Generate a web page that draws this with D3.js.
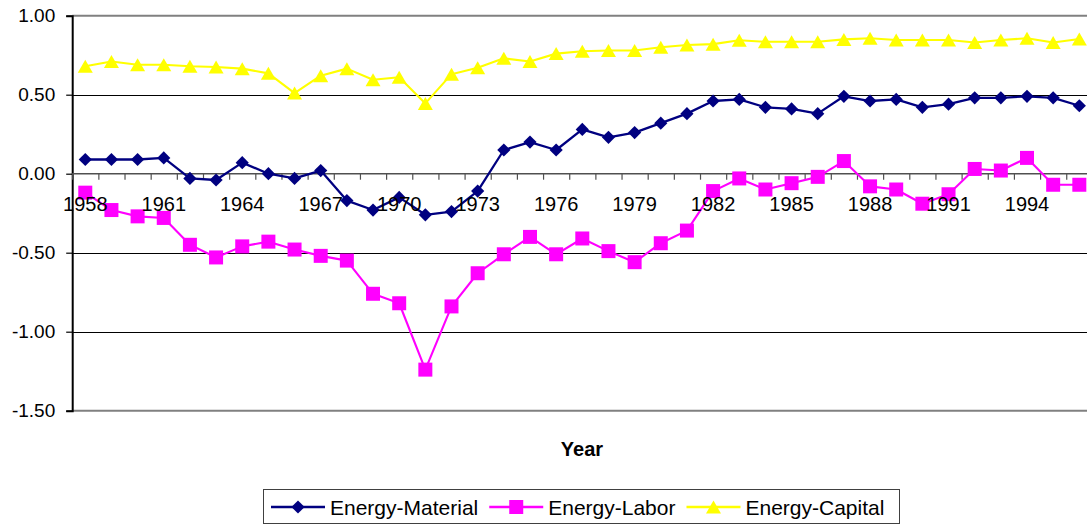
<!DOCTYPE html>
<html>
<head>
<meta charset="utf-8">
<script src="https://cdn.jsdelivr.net/npm/d3@7"></script>
<style>
  html, body { margin: 0; padding: 0; background: #fff; }
  svg { display: block; font-family: Arial, "Liberation Sans", sans-serif; }
</style>
</head>
<body>
<svg id="chart" width="1087" height="524"></svg>
<script>
const years = [1958,1959,1960,1961,1962,1963,1964,1965,1966,1967,1968,1969,1970,1971,1972,1973,1974,1975,1976,1977,
               1978,1979,1980,1981,1982,1983,1984,1985,1986,1987,1988,1989,1990,1991,1992,1993,1994,1995,1996];
const labelYears = [1958,1961,1964,1967,1970,1973,1976,1979,1982,1985,1988,1991,1994];
const yTicks = [-1.5,-1.0,-0.5,0.0,0.5,1.0];

const energyMaterial = [0.09,0.09,0.09,0.10,-0.03,-0.04,0.07,0.00,-0.03,0.02,-0.17,-0.23,-0.15,-0.26,-0.24,-0.11,0.15,0.20,0.15,0.28,
                        0.23,0.26,0.32,0.38,0.46,0.47,0.42,0.41,0.38,0.49,0.46,0.47,0.42,0.44,0.48,0.48,0.49,0.48,0.43];
const energyLabor    = [-0.12,-0.23,-0.27,-0.28,-0.45,-0.53,-0.46,-0.43,-0.48,-0.52,-0.55,-0.76,-0.82,-1.24,-0.84,-0.63,-0.51,-0.40,-0.51,-0.41,
                        -0.49,-0.56,-0.44,-0.36,-0.11,-0.03,-0.10,-0.06,-0.02,0.08,-0.08,-0.10,-0.19,-0.13,0.03,0.02,0.10,-0.07,-0.07];
const energyCapital  = [0.68,0.71,0.69,0.69,0.68,0.675,0.665,0.635,0.51,0.62,0.665,0.595,0.61,0.445,0.63,0.67,0.73,0.71,0.76,0.775,
                        0.78,0.78,0.80,0.815,0.82,0.845,0.835,0.835,0.835,0.85,0.857,0.846,0.846,0.846,0.83,0.846,0.857,0.83,0.853];

const seriesNames = ["Energy-Material","Energy-Labor","Energy-Capital"];
const seriesColors = ["#000080","#FF00FF","#FFFF00"];
const seriesShapes = ["diamond","square","triangle"];
const seriesValues = [energyMaterial, energyLabor, energyCapital];

const svg = d3.select("#chart");
const pLeft = 72.2, pRight = 1092.4, pTop = 15.7, pBottom = 410.7;

const x = d3.scaleBand().domain(years).range([pLeft, pRight]).paddingInner(0).paddingOuter(0);
const xi = d3.scaleLinear().domain([0, years.length]).range([pLeft, pRight]);
const y = d3.scaleLinear().domain([-1.5, 1.0]).range([pBottom, pTop]);
const cx = yr => x(yr) + x.bandwidth() / 2;

// gridlines
svg.append("g").selectAll("line").data(yTicks.filter(v => v !== 0 && v !== 1.0 && v !== -1.5)).join("line")
  .attr("x1", pLeft).attr("x2", pRight)
  .attr("y1", d => Math.round(y(d)) + 0.5).attr("y2", d => Math.round(y(d)) + 0.5)
  .attr("stroke", "#000").attr("stroke-width", 1);

// plot border top & bottom
[1.0, -1.5].forEach(v => {
  svg.append("line").attr("x1", pLeft).attr("x2", pRight)
    .attr("y1", y(v)).attr("y2", y(v))
    .attr("stroke", "#808080").attr("stroke-width", 2);
});

// y axis
const yAxis = svg.append("g").attr("transform", `translate(${pLeft},0)`)
  .call(d3.axisLeft(y).tickValues(yTicks).tickSize(6).tickPadding(11).tickFormat(d => d.toFixed(2)));
yAxis.select(".domain").attr("stroke", "#000").attr("stroke-width", 2);
yAxis.selectAll(".tick line").attr("stroke", "#000").attr("stroke-width", 1.2);
yAxis.selectAll("text").attr("font-size", 19).attr("fill", "#000")
  .attr("font-family", "Arial, 'Liberation Sans', sans-serif");

// x axis ticks at category boundaries
const xTickAxis = svg.append("g").attr("transform", `translate(0,${y(0)})`)
  .call(d3.axisBottom(xi).tickValues(d3.range(0, years.length + 1)).tickSize(6).tickFormat(""));
xTickAxis.select(".domain").attr("stroke", "#505050").attr("stroke-width", 1.5).attr("d", `M${pLeft},0H${pRight}`);
xTickAxis.selectAll(".tick line").attr("stroke", "#505050").attr("stroke-width", 1.2);

// series lines and markers
const line = d3.line().x((d, i) => cx(years[i])).y(d => y(d));

function markerPath(shape) {
  if (shape === "diamond") { const r = 6.6; return `M0,${-r}L${r},0L0,${r}L${-r},0Z`; }
  if (shape === "square") { const r = 7; return `M${-r},${-r}H${r}V${r}H${-r}Z`; }
  const w = 7.5, h = 13; return `M0,${-h/2}L${w},${h/2}L${-w},${h/2}Z`;
}

seriesValues.forEach((vals, s) => {
  const g = svg.append("g");
  g.append("path").datum(vals).attr("d", line)
    .attr("fill", "none").attr("stroke", seriesColors[s]).attr("stroke-width", s === 0 ? 2.3 : 2.1)
    .attr("stroke-linejoin", "round");
  g.selectAll("path.m").data(vals).join("path").attr("class", "m")
    .attr("transform", (d, i) => `translate(${cx(years[i])},${y(d)})`)
    .attr("d", markerPath(seriesShapes[s]))
    .attr("fill", seriesColors[s]);
});

// x labels
const xLab = svg.append("g").attr("transform", `translate(0,${y(0)})`)
  .call(d3.axisBottom(x).tickValues(labelYears).tickSize(0).tickPadding(23));
xLab.select(".domain").remove();
xLab.selectAll("text").attr("font-size", 20).attr("fill", "#000")
  .attr("font-family", "Arial, 'Liberation Sans', sans-serif");

// axis title
svg.append("text").attr("x", 582).attr("y", 455.5).attr("text-anchor", "middle")
  .attr("font-size", 20).attr("font-weight", "bold").attr("fill", "#000").text("Year");

// legend
const lg = svg.append("g");
lg.append("rect").attr("x", 263.5).attr("y", 489.5).attr("width", 636).attr("height", 34)
  .attr("fill", "#fff").attr("stroke", "#404040").attr("stroke-width", 1);
let lx = 271;
const ly = 507;
seriesNames.forEach((name, s) => {
  lg.append("line").attr("x1", lx).attr("x2", lx + 54).attr("y1", ly).attr("y2", ly)
    .attr("stroke", seriesColors[s]).attr("stroke-width", 2.3);
  lg.append("path").attr("transform", `translate(${lx + 27},${ly})`)
    .attr("d", markerPath(seriesShapes[s])).attr("fill", seriesColors[s]);
  const t = lg.append("text").attr("x", lx + 59).attr("y", ly + 7.5)
    .attr("font-size", 21).attr("fill", "#000").text(name);
  lx = lx + 59 + t.node().getComputedTextLength() + 11;
});
</script>
</body>
</html>
